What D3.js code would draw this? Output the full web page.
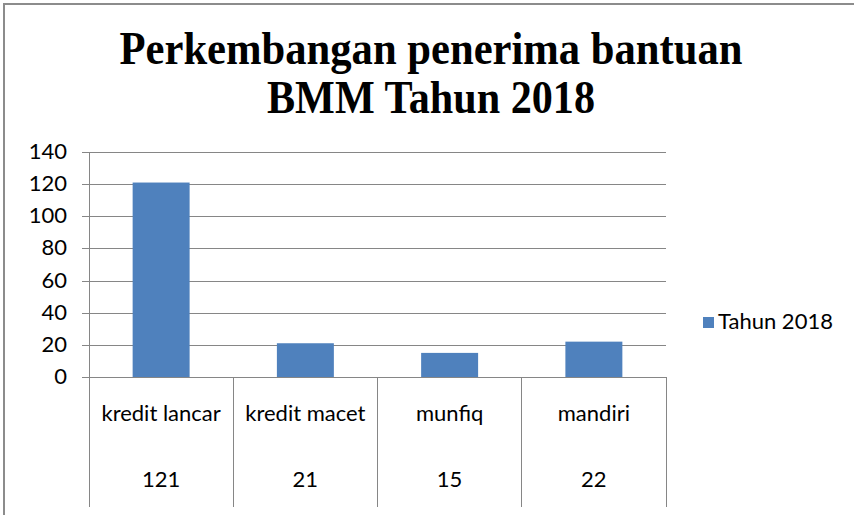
<!DOCTYPE html>
<html>
<head>
<meta charset="utf-8">
<script src="https://cdn.jsdelivr.net/npm/d3@7"></script>
<style>
  body { margin: 0; background: #fff; }
  svg { display: block; }
</style>
</head>
<body>
<svg id="chart"></svg>
<script>
// chart data
const categories = ['kredit lancar', 'kredit macet', 'munfiq', 'mandiri'];
const values = [121, 21, 15, 22];
const seriesName = 'Tahun 2018';
const yTicks = [0, 20, 40, 60, 80, 100, 120, 140];
const titleLines = ['Perkembangan penerima bantuan', 'BMM Tahun 2018'];

const width = 854;
const height = 515;
const plot = { left: 89, right: 666, top: 152, bottom: 377 };
const tableBottom = 507;
const barColor = '#4f81bd';
const lineColor = '#868686';
const font = 'Lato, "Open Sans", sans-serif';
const fontSize = 22;

const svg = d3.select('#chart').attr('width', width).attr('height', height);

// outer frame (cut off at the right and bottom)
svg.append('rect')
    .attr('x', 4).attr('y', 4)
    .attr('width', width + 20).attr('height', height + 20)
    .attr('fill', 'none').attr('stroke', '#8c8c8c').attr('stroke-width', 2);

// title
svg.append('g').selectAll('text')
    .data(titleLines)
    .enter().append('text')
    .attr('x', 431)
    .attr('y', (d, i) => 64 + i * 49)
    .attr('text-anchor', 'middle')
    .attr('font-family', '"Liberation Serif", "Times New Roman", serif')
    .attr('font-weight', 'bold')
    .attr('font-size', 46)
    .attr('textLength', (d, i) => i === 0 ? 623 : 328)
    .attr('lengthAdjust', 'spacingAndGlyphs')
    .text(d => d);

const y = d3.scaleLinear().domain([0, 140]).range([plot.bottom, plot.top]);
const x = d3.scaleBand().domain(categories).range([plot.left, plot.right])
    .paddingInner(0.605).paddingOuter(0.3025);
const cols = d3.scaleBand().domain(categories).range([plot.left, plot.right]);

// gridlines with the little ticks on the left
const gy = svg.append('g')
    .attr('transform', `translate(${plot.right},0)`)
    .call(d3.axisLeft(y).tickValues(yTicks).tickSize(plot.right - plot.left + 7).tickFormat(''));
gy.select('.domain').remove();
gy.selectAll('.tick line').attr('stroke', lineColor).attr('shape-rendering', 'crispEdges');

// y labels
svg.append('g').selectAll('text')
    .data(yTicks)
    .enter().append('text')
    .attr('x', 67)
    .attr('y', d => y(d) + 7)
    .attr('text-anchor', 'end')
    .attr('font-family', font)
    .attr('font-size', fontSize)
    .attr('fill', '#000')
    .text(d => d);

// y axis line
svg.append('line')
    .attr('x1', plot.left).attr('x2', plot.left)
    .attr('y1', plot.top).attr('y2', plot.bottom)
    .attr('stroke', lineColor).attr('shape-rendering', 'crispEdges');

// bars
svg.append('g').selectAll('rect')
    .data(values)
    .enter().append('rect')
    .attr('x', (d, i) => x(categories[i]))
    .attr('y', d => y(d))
    .attr('width', x.bandwidth())
    .attr('height', d => y(0) - y(d))
    .attr('fill', barColor);

// data table under the axis
const bounds = categories.map(c => cols(c)).concat([plot.right]);
svg.append('g').selectAll('line')
    .data(bounds)
    .enter().append('line')
    .attr('x1', d => d).attr('x2', d => d)
    .attr('y1', plot.bottom).attr('y2', tableBottom)
    .attr('stroke', lineColor).attr('shape-rendering', 'crispEdges');

svg.append('line')
    .attr('x1', plot.left - 7).attr('x2', plot.right)
    .attr('y1', plot.bottom).attr('y2', plot.bottom)
    .attr('stroke', lineColor).attr('shape-rendering', 'crispEdges');

svg.append('g').selectAll('text')
    .data(categories)
    .enter().append('text')
    .attr('x', d => cols(d) + cols.bandwidth() / 2)
    .attr('y', 421)
    .attr('text-anchor', 'middle')
    .attr('font-family', font)
    .attr('font-size', fontSize)
    .text(d => d);

svg.append('g').selectAll('text')
    .data(values)
    .enter().append('text')
    .attr('x', (d, i) => cols(categories[i]) + cols.bandwidth() / 2)
    .attr('y', 487)
    .attr('text-anchor', 'middle')
    .attr('font-family', font)
    .attr('font-size', fontSize)
    .text(d => d);

// legend
const legend = svg.append('g').attr('transform', 'translate(703,317)');
legend.append('rect').attr('width', 11).attr('height', 11).attr('fill', barColor);
legend.append('text')
    .attr('x', 15).attr('y', 12)
    .attr('font-family', font)
    .attr('font-size', fontSize)
    .text(seriesName);
</script>
</body>
</html>
